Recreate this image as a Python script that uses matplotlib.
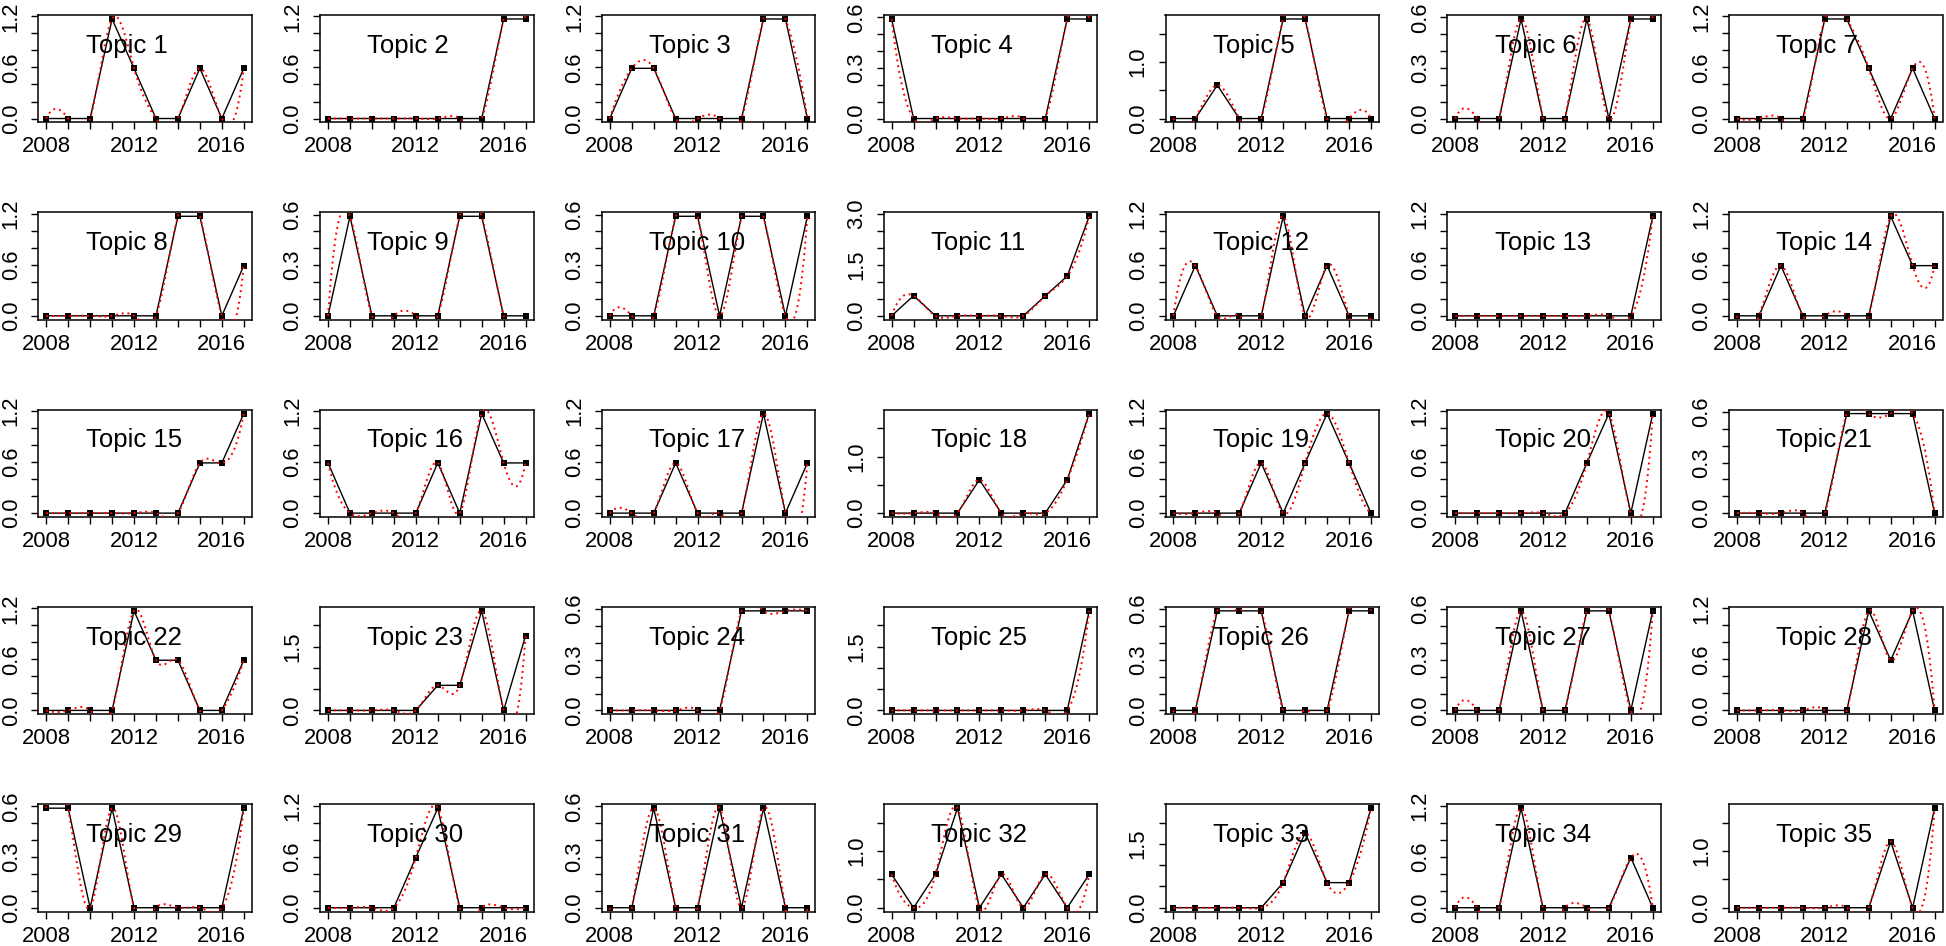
import numpy as np
import matplotlib
matplotlib.use("Agg")
import matplotlib.pyplot as plt

plt.rcParams['font.family'] = ['Liberation Sans', 'DejaVu Sans']

years = [2008, 2009, 2010, 2011, 2012, 2013, 2014, 2015, 2016, 2017]
x_labeled_years = [2008, 2012, 2016]

t01 = [0, 0, 0, 1.17, 0.59, 0, 0, 0.59, 0, 0.59]
t02 = [0, 0, 0, 0, 0, 0, 0, 0, 1.17, 1.17]
t03 = [0, 0.59, 0.59, 0, 0, 0, 0, 1.17, 1.17, 0]
t04 = [0.59, 0, 0, 0, 0, 0, 0, 0, 0.59, 0.59]
t05 = [0, 0, 0.59, 0, 0, 1.76, 1.76, 0, 0, 0]
t06 = [0, 0, 0, 0.59, 0, 0, 0.59, 0, 0.59, 0.59]
t07 = [0, 0, 0, 0, 1.17, 1.17, 0.59, 0, 0.59, 0]
t08 = [0, 0, 0, 0, 0, 0, 1.17, 1.17, 0, 0.59]
t09 = [0, 0.59, 0, 0, 0, 0, 0.59, 0.59, 0, 0]
t10 = [0, 0, 0, 0.59, 0.59, 0, 0.59, 0.59, 0, 0.59]
t11 = [0, 0.59, 0, 0, 0, 0, 0, 0.59, 1.17, 2.93]
t12 = [0, 0.59, 0, 0, 0, 1.17, 0, 0.59, 0, 0]
t13 = [0, 0, 0, 0, 0, 0, 0, 0, 0, 1.17]
t14 = [0, 0, 0.59, 0, 0, 0, 0, 1.17, 0.59, 0.59]
t15 = [0, 0, 0, 0, 0, 0, 0, 0.59, 0.59, 1.17]
t16 = [0.59, 0, 0, 0, 0, 0.59, 0, 1.17, 0.59, 0.59]
t17 = [0, 0, 0, 0.59, 0, 0, 0, 1.17, 0, 0.59]
t18 = [0, 0, 0, 0, 0.59, 0, 0, 0, 0.59, 1.76]
t19 = [0, 0, 0, 0, 0.59, 0, 0.59, 1.17, 0.59, 0]
t20 = [0, 0, 0, 0, 0, 0, 0.59, 1.17, 0, 1.17]
t21 = [0, 0, 0, 0, 0, 0.59, 0.59, 0.59, 0.59, 0]
t22 = [0, 0, 0, 0, 1.17, 0.59, 0.59, 0, 0, 0.59]
t23 = [0, 0, 0, 0, 0, 0.59, 0.59, 2.34, 0, 1.76]
t24 = [0, 0, 0, 0, 0, 0, 0.59, 0.59, 0.59, 0.59]
t25 = [0, 0, 0, 0, 0, 0, 0, 0, 0, 2.34]
t26 = [0, 0, 0.59, 0.59, 0.59, 0, 0, 0, 0.59, 0.59]
t27 = [0, 0, 0, 0.59, 0, 0, 0.59, 0.59, 0, 0.59]
t28 = [0, 0, 0, 0, 0, 0, 1.17, 0.59, 1.17, 0]
t29 = [0.59, 0.59, 0, 0.59, 0, 0, 0, 0, 0, 0.59]
t30 = [0, 0, 0, 0, 0.59, 1.17, 0, 0, 0, 0]
t31 = [0, 0, 0.59, 0, 0, 0.59, 0, 0.59, 0, 0]
t32 = [0.59, 0, 0.59, 1.76, 0, 0.59, 0, 0.59, 0, 0.59]
t33 = [0, 0, 0, 0, 0, 0.59, 1.76, 0.59, 0.59, 2.34]
t34 = [0, 0, 0, 1.17, 0, 0, 0, 0, 0.59, 0]
t35 = [0, 0, 0, 0, 0, 0, 0, 1.17, 0, 1.76]

topics = [t01, t02, t03, t04, t05, t06, t07, t08, t09, t10,
          t11, t12, t13, t14, t15, t16, t17, t18, t19, t20,
          t21, t22, t23, t24, t25, t26, t27, t28, t29, t30,
          t31, t32, t33, t34, t35]
titles = [f"Topic {i}" for i in range(1, 36)]


def fmm_spline(x, y):
    """Cubic spline coefficients with FMM end conditions (as R's spline())."""
    x = np.asarray(x, float)
    y = np.asarray(y, float)
    n = len(x)
    nm1 = n - 1
    b = np.zeros(n); c = np.zeros(n); d = np.zeros(n)
    d[0] = x[1] - x[0]
    c[1] = (y[1] - y[0]) / d[0]
    for i in range(1, nm1):
        d[i] = x[i + 1] - x[i]
        b[i] = 2.0 * (d[i - 1] + d[i])
        c[i + 1] = (y[i + 1] - y[i]) / d[i]
        c[i] = c[i + 1] - c[i]
    b[0] = -d[0]
    b[nm1] = -d[n - 2]
    c[0] = c[nm1] = 0.0
    if n > 3:
        c[0] = c[2] / (x[3] - x[1]) - c[1] / (x[2] - x[0])
        c[nm1] = c[n - 2] / (x[nm1] - x[n - 3]) - c[n - 3] / (x[n - 2] - x[n - 4])
        c[0] = c[0] * d[0] * d[0] / (x[3] - x[0])
        c[nm1] = -c[nm1] * d[n - 2] * d[n - 2] / (x[nm1] - x[n - 4])
    for i in range(1, n):
        t = d[i - 1] / b[i - 1]
        b[i] = b[i] - t * d[i - 1]
        c[i] = c[i] - t * c[i - 1]
    c[nm1] = c[nm1] / b[nm1]
    for i in range(n - 2, -1, -1):
        c[i] = (c[i] - d[i] * c[i + 1]) / b[i]
    b[nm1] = (y[n - 1] - y[n - 2]) / d[n - 2] + d[n - 2] * (c[n - 2] + 2.0 * c[nm1])
    for i in range(nm1):
        b[i] = (y[i + 1] - y[i]) / d[i] - d[i] * (c[i + 1] + 2.0 * c[i])
        d[i] = (c[i + 1] - c[i]) / d[i]
        c[i] = 3.0 * c[i]
    c[nm1] = 3.0 * c[nm1]
    d[nm1] = d[n - 2]
    return x, y, b, c, d


def spline_eval(coef, u):
    x, y, b, c, d = coef
    i = np.clip(np.searchsorted(x, u, side='right') - 1, 0, len(x) - 1)
    dx = u - x[i]
    return y[i] + dx * (b[i] + dx * (c[i] + dx * d[i]))


def nice_step(span):
    raw = span / 5.0
    mag = 10 ** np.floor(np.log10(raw))
    cands = np.array([1, 2, 5, 10]) * mag
    return cands[np.argmin(np.abs(np.log10(cands / raw)))]


W, H = 1946, 946
fig = plt.figure(figsize=(W / 100, H / 100), dpi=100)

box_w, box_h = 213.4, 107.5
left0, top0 = 38.3, 15.0
col_pitch, row_pitch = 281.8, 197.3
label_gap_px = 48

xs = np.array(years, float)
for k, vals in enumerate(topics):
    r, cidx = divmod(k, 7)
    left = left0 + cidx * col_pitch
    top = top0 + r * row_pitch
    ax = fig.add_axes([left / W, 1 - (top + box_h) / H, box_w / W, box_h / H])
    v = np.array(vals, float)
    ymax = v.max()
    ymin = v.min()
    span = ymax - ymin
    ax.set_xlim(xs[0] - 0.04 * (xs[-1] - xs[0]), xs[-1] + 0.04 * (xs[-1] - xs[0]))
    ax.set_ylim(ymin - 0.04 * span, ymax + 0.04 * span)

    ax.plot(xs, v, color='black', lw=1.0, marker='s', ms=5.0, mew=0, zorder=2)
    coef = fmm_spline(xs, v)
    xf = np.linspace(xs[0], xs[-1], 300)
    ax.plot(xf, spline_eval(coef, xf), color='red', lw=1.4, ls=(0, (1, 2)), zorder=3)

    # x axis
    ax.set_xticks(years)
    ax.set_xticklabels([str(y) if y in x_labeled_years else '' for y in years])
    # y axis with R-like label thinning
    step = nice_step(span * 1.08)
    lo, hi = ax.get_ylim()
    idx = np.arange(int(np.ceil(lo / step - 1e-9)), int(np.floor(hi / step + 1e-9)) + 1)
    ticks = [round(i * step, 10) + 0.0 for i in idx]
    px_per_unit = box_h / (hi - lo)
    labels = []
    last = None
    for t in ticks:
        if last is None or (t - last) * px_per_unit > label_gap_px:
            labels.append(f"{abs(t) if abs(t) < 1e-9 else t:.1f}")
            last = t
        else:
            labels.append('')
    ax.set_yticks(ticks)
    ax.set_yticklabels(labels, rotation=90, va='center')

    ax.tick_params(axis='both', direction='out', length=5, width=1.0,
                   labelsize=15.8, color='black')
    ax.tick_params(axis='x', pad=5)
    ax.tick_params(axis='y', pad=7)
    for s in ax.spines.values():
        s.set_linewidth(1.1)
    ax.text(0.222, 0.65, titles[k], transform=ax.transAxes, fontsize=18.5,
            ha='left', va='baseline', zorder=4)

fig.savefig('out.png', dpi=100)
